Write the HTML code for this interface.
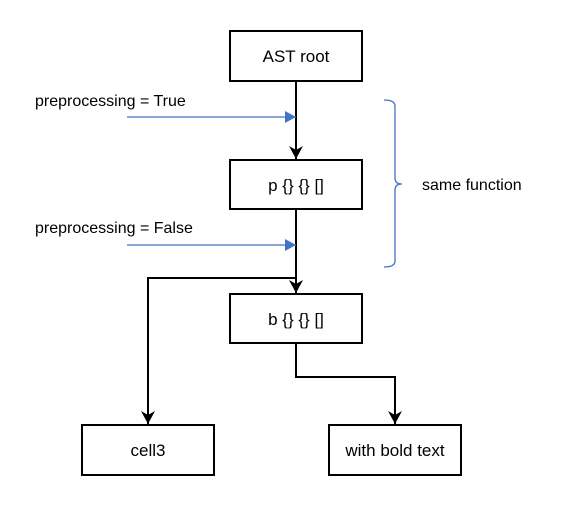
<!DOCTYPE html>
<html><head><style>
html,body{margin:0;padding:0;background:#fff;}
svg{display:block;}
</style></head><body>
<svg width="571" height="514" viewBox="0 0 571 514" xmlns="http://www.w3.org/2000/svg">
<defs>
<marker id="bk" markerWidth="14" markerHeight="14" refX="13" refY="7" orient="auto" markerUnits="userSpaceOnUse">
<path d="M0,0 L13,7 L0,14 L4,7 z" fill="#000"/></marker>
<marker id="bl" markerWidth="12" markerHeight="12" refX="11" refY="6" orient="auto" markerUnits="userSpaceOnUse">
<path d="M0,0 L11,6 L0,12 z" fill="#4472c4"/></marker>
</defs>
<g fill="#fff" stroke="#000" stroke-width="2">
<rect x="230" y="31" width="132" height="50"/>
<rect x="230" y="160" width="132" height="49"/>
<rect x="230" y="294" width="132" height="49"/>
<rect x="82" y="425" width="132" height="50"/>
<rect x="329" y="425" width="132" height="50"/>
</g>
<g stroke="#000" stroke-width="2" fill="none">
<line x1="296" y1="81" x2="296" y2="159" marker-end="url(#bk)"/>
<line x1="296" y1="209" x2="296" y2="293" marker-end="url(#bk)"/>
<polyline points="296,278 148,278 148,424" marker-end="url(#bk)"/>
<polyline points="296,343 296,377 395,377 395,424" marker-end="url(#bk)"/>
</g>
<g stroke="#4472c4" stroke-width="1.3" fill="none">
<line x1="127" y1="117" x2="296" y2="117" marker-end="url(#bl)"/>
<line x1="127" y1="245" x2="296" y2="245" marker-end="url(#bl)"/>
<path d="M384,100 Q395,100 395,106 L395,178 Q395,184 402,184 Q395,184 395,190 L395,261 Q395,267 384,267"/>
</g>
<g font-family="Liberation Sans, sans-serif" font-size="17" fill="#000" text-anchor="middle">
<text x="296" y="62">AST root</text>
<text x="296" y="191">p {} {} []</text>
<text x="296" y="325">b {} {} []</text>
<text x="148" y="456">cell3</text>
<text x="395" y="456">with bold text</text>
</g>
<g font-family="Liberation Sans, sans-serif" font-size="16" fill="#000">
<text x="35" y="106">preprocessing = True</text>
<text x="35" y="233">preprocessing = False</text>
<text x="422" y="190">same function</text>
</g>
</svg>
</body></html>
